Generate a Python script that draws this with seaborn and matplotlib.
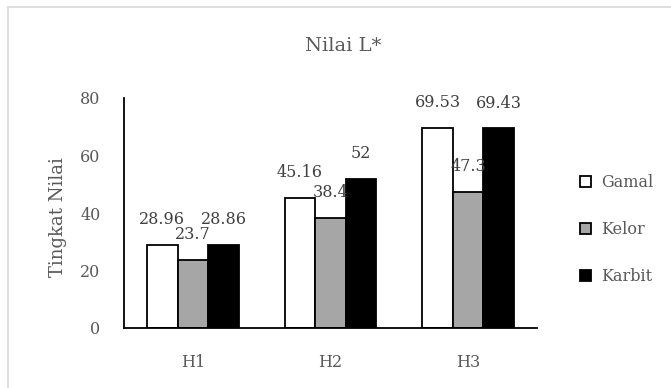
import matplotlib
matplotlib.use("Agg")
import matplotlib.pyplot as plt
from matplotlib.lines import Line2D
from matplotlib.patches import Patch
import seaborn as sns
import pandas as pd

# Data
categories = ["H1", "H2", "H3"]
series = ["Gamal", "Kelor", "Karbit"]
gamal = [28.96, 45.16, 69.53]
kelor = [23.7, 38.4, 47.3]
karbit = [28.86, 52, 69.43]
colors = ["#ffffff", "#a6a6a6", "#000000"]
yticks = [0, 20, 40, 60, 80]

df = pd.DataFrame({
    "Hari": categories * 3,
    "Perlakuan": [s for s in series for _ in categories],
    "Nilai": gamal + kelor + karbit,
})

sns.set_style("white")
plt.rcParams["font.family"] = ["DejaVu Serif"]
text_gray = "#595959"

fig = plt.figure(figsize=(6.71, 3.88), dpi=100)
ax = fig.add_axes([124 / 671, 1 - 328 / 388, 413 / 671, 230 / 388])

sns.barplot(data=df, x="Hari", y="Nilai", hue="Perlakuan", order=categories,
            hue_order=series, palette=colors, width=0.667, edgecolor="black",
            linewidth=1.3, saturation=1, ax=ax, legend=False)

# Value labels above each bar
for cont in ax.containers:
    ax.bar_label(cont, fmt="{:g}", padding=12, fontsize=11.5, color="#404040")

ax.set_xlim(-0.5, 2.5)
ax.set_ylim(0, 80)
ax.set_yticks(yticks)
ax.set_xlabel("")
ax.set_ylabel("Tingkat Nilai", fontsize=13, color=text_gray)
ax.yaxis.label.set_va("center")
ax.yaxis.set_label_coords((58 - 124) / 413, (328 - 217) / 230)
ax.tick_params(axis="y", length=0, pad=17, labelsize=11.5, labelcolor=text_gray)
ax.tick_params(axis="x", length=0, pad=19, labelsize=11.5, labelcolor=text_gray)

sns.despine(ax=ax, top=True, right=True)
for side in ("left", "bottom"):
    ax.spines[side].set_color("black")
    ax.spines[side].set_linewidth(1.3)

# Legend on the right
handles = [Patch(facecolor=c, edgecolor="black", linewidth=1.3) for c in colors]
ax.legend(handles, series, loc="upper left",
          bbox_to_anchor=(580 / 671, 1 - 174 / 388), bbox_transform=fig.transFigure,
          frameon=False, borderpad=0, borderaxespad=0, fontsize=11.5,
          labelcolor=text_gray, handlelength=0.7, handleheight=0.7,
          handletextpad=0.6, labelspacing=1.87)

# Title
fig.text(343 / 671, 1 - 46 / 388, "Nilai L*", ha="center", va="center",
         fontsize=14, color=text_gray)

# Chart-area border
x0 = 7.5 / 671
y0 = 1 - 6.5 / 388
fig.add_artist(Line2D([x0, 1.01], [y0, y0], transform=fig.transFigure,
                      color="#d9d9d9", linewidth=1.2))
fig.add_artist(Line2D([x0, x0], [y0, -0.01], transform=fig.transFigure,
                      color="#d9d9d9", linewidth=1.2))

fig.savefig("out.png", dpi=100, facecolor="white")
